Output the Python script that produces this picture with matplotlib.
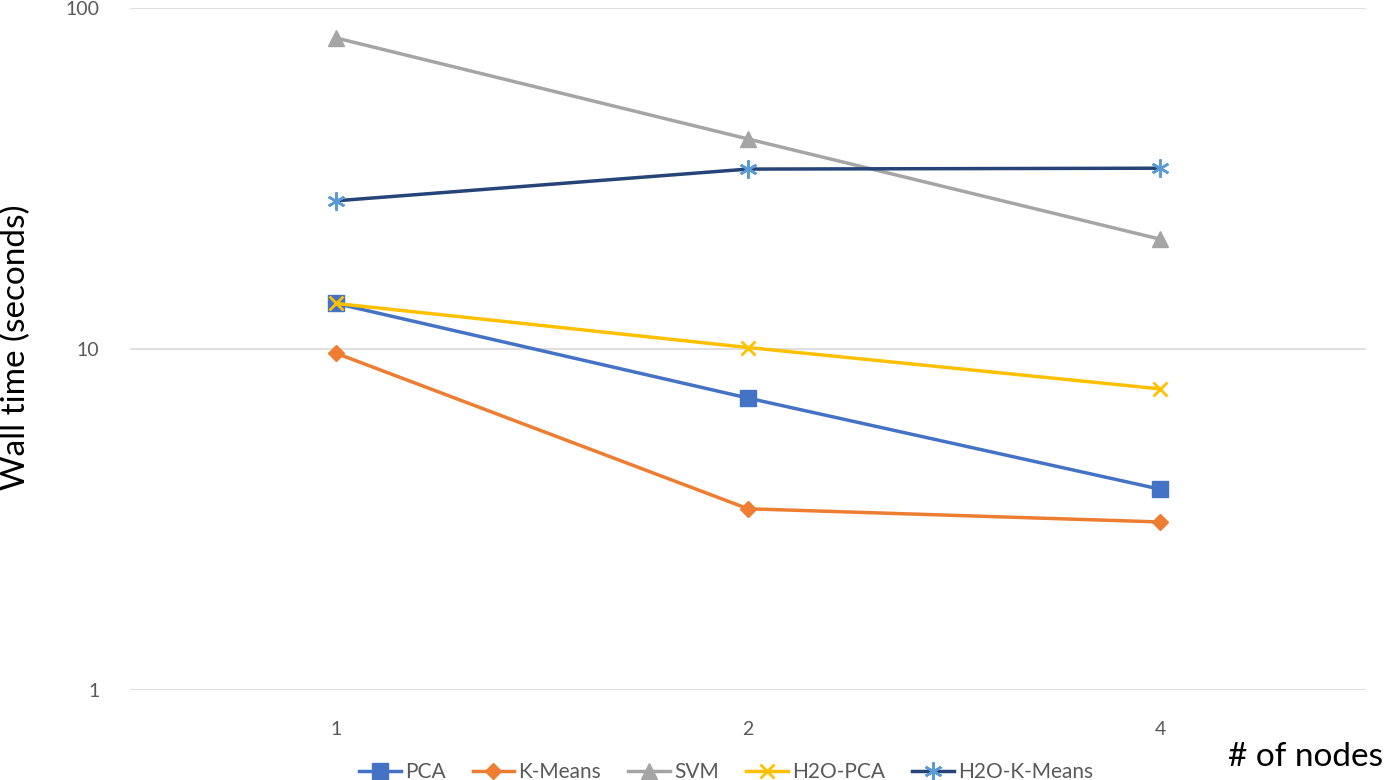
import matplotlib
matplotlib.use('Agg')
import matplotlib.pyplot as plt
from matplotlib.ticker import FixedLocator, NullLocator

plt.rcParams['font.family'] = ['Lato', 'DejaVu Sans']

# Data
nodes = ['1', '2', '4']
pca = [13.6, 7.18, 3.88]
kmeans = [9.72, 3.40, 3.11]
svm = [81.7, 41.3, 21.0]
h2o_pca = [13.6, 10.1, 7.64]
h2o_kmeans = [27.2, 33.7, 33.9]

x = list(range(len(nodes)))

fig = plt.figure(figsize=(13.84, 7.8), dpi=100)
ax = fig.add_axes([130/1384, 1-690/780, 1236/1384, 682/780])

ax.plot(x, pca, color='#4472C4', lw=2.5, marker='s', ms=11, label='PCA')
ax.plot(x, kmeans, color='#ED7D31', lw=2.5, marker='D', ms=8, label='K-Means')
ax.plot(x, svm, color='#A5A5A5', lw=2.5, marker='^', ms=11, label='SVM')
ax.plot(x, h2o_pca, color='#FFC000', lw=2.5, marker='x', ms=10, mew=2, label='H2O-PCA')
ax.plot(x, h2o_kmeans, color='#264478', lw=2.5, marker=(6, 2, 0), ms=13, mew=1.8,
        mec='#5B9BD5', label='H2O-K-Means')

ax.set_yscale('log')
ax.set_ylim(1, 100)
ax.set_xlim(-0.5, len(nodes) - 0.5)
ax.yaxis.set_major_locator(FixedLocator([1, 10, 100]))
ax.yaxis.set_minor_locator(NullLocator())
ax.set_yticklabels(['1', '10', '100'])
ax.set_xticks(x)
ax.set_xticklabels(nodes)
ax.grid(axis='y', color='#D9D9D9', lw=1.2)
ax.set_axisbelow(True)
for s in ax.spines.values():
    s.set_visible(False)
ax.tick_params(length=0, labelsize=14, labelcolor='#595959')
ax.tick_params(axis='y', pad=22)
ax.tick_params(axis='x', pad=22)

fig.text(16/1384, 1-347/780, 'Wall time (seconds)', rotation=90,
         ha='center', va='center', fontsize=24)
fig.text(1383/1384, 1-757/780, '# of nodes', ha='right', va='center', fontsize=24)

fig.legend(loc='center', bbox_to_anchor=(726/1384, 1-772/780), ncol=5,
           frameon=False, fontsize=15, labelcolor='#595959',
           handlelength=2.0, handletextpad=0.2, columnspacing=1.3)

fig.savefig('out.png', dpi=100)
